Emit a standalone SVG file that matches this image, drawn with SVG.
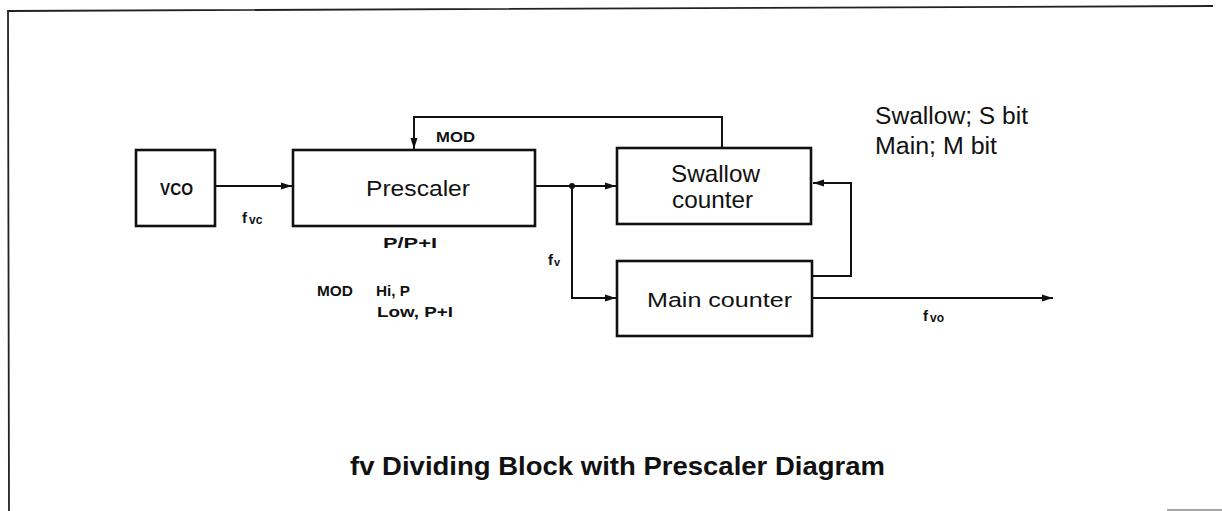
<svg xmlns="http://www.w3.org/2000/svg" width="1222" height="511" viewBox="0 0 1222 511">
<style>
text{font-family:"Liberation Sans",Arial,Helvetica,sans-serif;fill:#111}
.box{fill:#fff;stroke:#111;stroke-width:2.6}
.ln{fill:none;stroke:#111;stroke-width:2}
.frame{fill:none;stroke:#222;stroke-width:1.8}
.b{font-weight:bold}
</style>
<defs>
<marker id="ah" viewBox="0 0 11 9" refX="11" refY="4.5" markerWidth="11" markerHeight="9" markerUnits="userSpaceOnUse" orient="auto">
<path d="M0,1 L11,4.5 L0,8 Z" fill="#111"/>
</marker>
</defs>
<rect width="1222" height="511" fill="#fff"/>
<g id="frame">
<polyline class="frame" points="9,511 8,11 1213,6"/>
<line x1="1167" y1="510" x2="1222" y2="510" stroke="#888" stroke-width="1.5"/>
</g>
<g id="connectors">
<line class="ln" x1="216" y1="186" x2="292" y2="186" marker-end="url(#ah)"/>
<polyline class="ln" points="722,148 722,117 414,117 414,149" marker-end="url(#ah)"/>
<line class="ln" x1="536" y1="186" x2="616" y2="186" marker-end="url(#ah)"/>
<polyline class="ln" points="572,186 572,298 616,298" marker-end="url(#ah)"/>
<circle cx="572" cy="186" r="3" fill="#111"/>
<polyline class="ln" points="812,276 851,276 851,183 813,183" marker-end="url(#ah)"/>
<line class="ln" x1="812" y1="298" x2="1053" y2="298" marker-end="url(#ah)"/>
</g>
<g id="vco">
<rect class="box" x="136" y="150" width="79" height="76"/>
<text x="160" y="195" font-size="17" class="b" textLength="33" lengthAdjust="spacingAndGlyphs">VCO</text>
</g>
<g id="prescaler">
<rect class="box" x="293" y="150" width="242" height="76"/>
<text x="366" y="196" font-size="22" textLength="104" lengthAdjust="spacingAndGlyphs">Prescaler</text>
</g>
<g id="swallow">
<rect class="box" x="617" y="148" width="194" height="76"/>
<text x="671" y="182" font-size="24" textLength="89" lengthAdjust="spacingAndGlyphs">Swallow</text>
<text x="672" y="208" font-size="24" textLength="81" lengthAdjust="spacingAndGlyphs">counter</text>
</g>
<g id="main">
<rect class="box" x="617" y="261" width="195" height="75"/>
<text x="647" y="307" font-size="20" textLength="145" lengthAdjust="spacingAndGlyphs">Main counter</text>
</g>
<g id="labels">
<text x="436" y="142" font-size="15" class="b" textLength="39" lengthAdjust="spacingAndGlyphs">MOD</text>
<text x="242" y="223" font-size="15" class="b">f<tspan font-size="12" dx="2" dy="1">vc</tspan></text>
<text x="548" y="265" font-size="15" class="b">f<tspan font-size="11" dx="1" dy="1">v</tspan></text>
<text x="923" y="321" font-size="15" class="b">f<tspan font-size="12" dx="2" dy="1">vo</tspan></text>
<text x="383" y="248" font-size="14" class="b" textLength="54" lengthAdjust="spacingAndGlyphs">P/P+I</text>
<text x="317" y="296" font-size="14" class="b" textLength="36" lengthAdjust="spacingAndGlyphs">MOD</text>
<text x="376" y="296" font-size="14" class="b" textLength="34" lengthAdjust="spacingAndGlyphs">Hi, P</text>
<text x="377" y="317" font-size="14" class="b" textLength="76" lengthAdjust="spacingAndGlyphs">Low, P+I</text>
<text x="875" y="124" font-size="23" textLength="153" lengthAdjust="spacingAndGlyphs">Swallow; S bit</text>
<text x="875" y="154" font-size="23" textLength="122" lengthAdjust="spacingAndGlyphs">Main; M bit</text>
<text x="350" y="475" font-size="26" class="b" textLength="535" lengthAdjust="spacingAndGlyphs">fv Dividing Block with Prescaler Diagram</text>
</g>
</svg>
